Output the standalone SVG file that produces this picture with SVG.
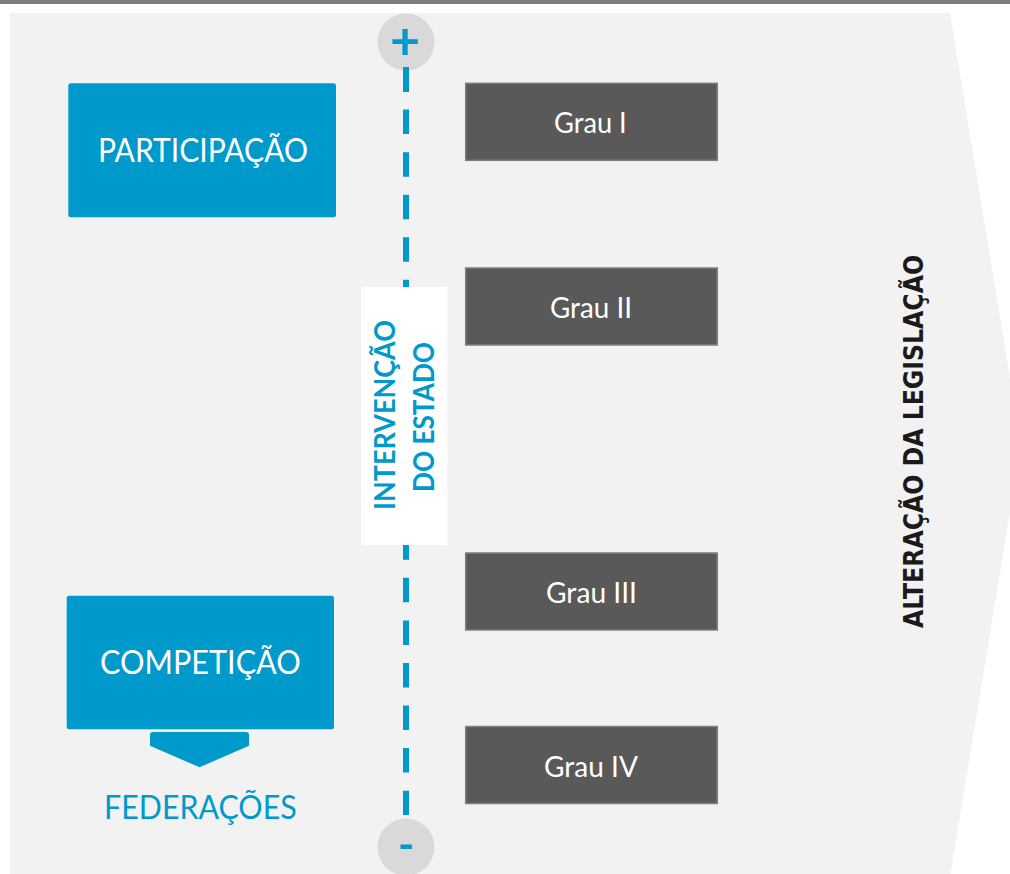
<svg xmlns="http://www.w3.org/2000/svg" width="1010" height="874" viewBox="0 0 1010 874">
<style>
.blue{fill:#0099cc}
.grau rect{fill:#595959;stroke:#7f7f7f;stroke-width:1.5}
.wt{fill:#ffffff;font-family:Lato,"Open Sans",sans-serif;text-anchor:middle}
.gt{font-size:28px}
.bt{font-size:32px}
.vt{fill:#0099cc;font-family:Lato,"Open Sans",sans-serif;font-weight:bold;font-size:28px;text-anchor:middle}
.circ{fill:#d9d9d9}
.sym{fill:#0099cc;font-family:Lato,"Open Sans",sans-serif;font-weight:bold;text-anchor:middle}
</style>
<rect x="0" y="0" width="1010" height="4" fill="#7f7f7f"/>
<polygon id="background" points="10,13 950,13 1021,445 950,877 10,877" fill="#f2f2f2"/>

<g id="connectors">
  <line x1="406" y1="67" x2="406" y2="815" stroke="#0099cc" stroke-width="6" stroke-dasharray="24.5 18.07"/>
  <path d="M150,735 Q150,732 153,732 L246,732 Q249,732 249,735 L249,745.7 L199.5,767.3 L150,745.7 Z" class="blue"/>
</g>

<g id="plus">
  <circle class="circ" cx="406" cy="42" r="28.5"/>
  <line x1="406" y1="67" x2="406" y2="92" stroke="#0099cc" stroke-width="6"/>
  <text class="sym" x="405" y="59" font-size="52">+</text>
</g>
<g id="minus">
  <circle class="circ" cx="406" cy="847" r="28.5"/>
  <text class="sym" x="406" y="860" font-size="44">-</text>
</g>

<g id="intervencao">
  <rect x="361" y="287" width="86.5" height="258" fill="#ffffff"/>
  <text class="vt" transform="translate(395,415) rotate(-90)" textLength="190" lengthAdjust="spacingAndGlyphs">INTERVENÇÃO</text>
  <text class="vt" transform="translate(434,417) rotate(-90)" textLength="150" lengthAdjust="spacingAndGlyphs">DO ESTADO</text>
</g>

<g id="participacao">
  <rect class="blue" x="68.3" y="83.3" width="267.7" height="134" rx="2.5"/>
  <text class="wt bt" x="203" y="161.7" textLength="210" lengthAdjust="spacingAndGlyphs">PARTICIPAÇÃO</text>
</g>

<g id="competicao">
  <rect class="blue" x="66.7" y="595.7" width="267.3" height="133.6" rx="2.5"/>
  <text class="wt bt" x="200.4" y="674.3" textLength="200.7" lengthAdjust="spacingAndGlyphs">COMPETIÇÃO</text>
</g>

<g id="federacoes">
  <text x="200.4" y="819.3" fill="#0099cc" font-family="Lato,'Open Sans',sans-serif" font-size="32" text-anchor="middle" textLength="192.7" lengthAdjust="spacingAndGlyphs">FEDERAÇÕES</text>
</g>

<g id="grau1" class="grau">
  <rect x="465.7" y="83.3" width="251.6" height="77"/>
  <text class="wt gt" x="590.4" y="133.3" textLength="72.7" lengthAdjust="spacingAndGlyphs">Grau I</text>
</g>
<g id="grau2" class="grau">
  <rect x="465.7" y="268" width="251.6" height="77"/>
  <text class="wt gt" x="591" y="318" textLength="82" lengthAdjust="spacingAndGlyphs">Grau II</text>
</g>
<g id="grau3" class="grau">
  <rect x="465.7" y="553" width="251.6" height="77"/>
  <text class="wt gt" x="591.5" y="603" textLength="91" lengthAdjust="spacingAndGlyphs">Grau III</text>
</g>
<g id="grau4" class="grau">
  <rect x="465.7" y="726.5" width="251.6" height="77"/>
  <text class="wt gt" x="591" y="776.5" textLength="94" lengthAdjust="spacingAndGlyphs">Grau IV</text>
</g>

<g id="alteracao">
  <text transform="translate(922.7,441.5) rotate(-90)" fill="#1a1a1a" font-family="'Liberation Sans Narrow','DejaVu Sans Condensed','Liberation Sans',sans-serif" font-weight="bold" font-size="26" text-anchor="middle" textLength="373" lengthAdjust="spacingAndGlyphs">ALTERAÇÃO DA LEGISLAÇÃO</text>
</g>
</svg>
